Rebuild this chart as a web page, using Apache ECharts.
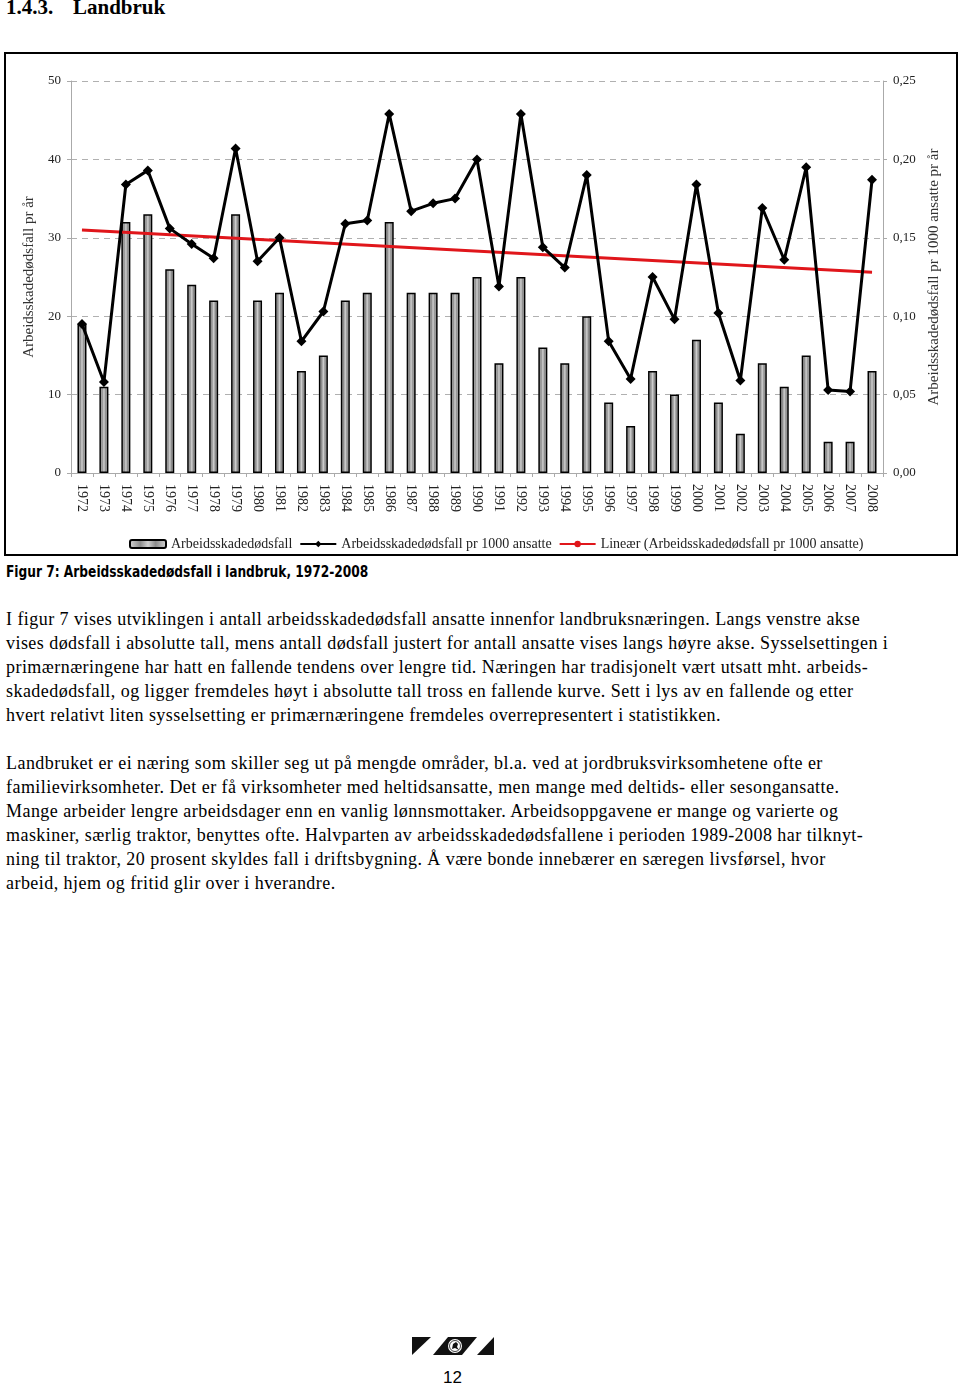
<!DOCTYPE html>
<html>
<head>
<meta charset="utf-8">
<script src="https://cdn.jsdelivr.net/npm/echarts@6.0.0/dist/echarts.min.js"></script>
<style>
body{margin:0;background:#fff;width:960px;height:1388px;position:relative;overflow:hidden;}
.ttl{position:absolute;top:-5px;font:bold 21px "Liberation Serif",serif;color:#000;white-space:pre;}
#chart{position:absolute;left:0;top:0;width:960px;height:560px;}
#caption{position:absolute;left:6px;top:563px;font:bold 15px "Liberation Sans Narrow","DejaVu Sans Condensed","Liberation Sans",sans-serif;color:#000;white-space:nowrap;transform:scaleX(0.905);transform-origin:0 0;}
.txt{position:absolute;left:6px;font:18px/24px "Liberation Serif",serif;letter-spacing:0.45px;color:#000;white-space:nowrap;}
#logo{position:absolute;left:410px;top:1335px;}
#pnum{position:absolute;left:443px;top:1368px;font:17px "Liberation Sans",sans-serif;color:#000;}
</style>
</head>
<body>
<div class="ttl" style="left:6px">1.4.3.</div>
<div class="ttl" style="left:73px">Landbruk</div>
<div id="chart"></div>
<div id="caption">Figur 7: Arbeidsskadedødsfall i landbruk, 1972-2008</div>
<div class="txt" style="top:607px">I figur 7 vises utviklingen i antall arbeidsskadedødsfall ansatte innenfor landbruksnæringen. Langs venstre akse<br>vises dødsfall i absolutte tall, mens antall dødsfall justert for antall ansatte vises langs høyre akse. Sysselsettingen i<br>primærnæringene har hatt en fallende tendens over lengre tid. Næringen har tradisjonelt vært utsatt mht. arbeids-<br>skadedødsfall, og ligger fremdeles høyt i absolutte tall tross en fallende kurve. Sett i lys av en fallende og etter<br>hvert relativt liten sysselsetting er primærnæringene fremdeles overrepresentert i statistikken.</div>
<div class="txt" style="top:751px">Landbruket er ei næring som skiller seg ut på mengde områder, bl.a. ved at jordbruksvirksomhetene ofte er<br>familievirksomheter. Det er få virksomheter med heltidsansatte, men mange med deltids- eller sesongansatte.<br>Mange arbeider lengre arbeidsdager enn en vanlig lønnsmottaker. Arbeidsoppgavene er mange og varierte og<br>maskiner, særlig traktor, benyttes ofte. Halvparten av arbeidsskadedødsfallene i perioden 1989-2008 har tilknyt-<br>ning til traktor, 20 prosent skyldes fall i driftsbygning. Å være bonde innebærer en særegen livsførsel, hvor<br>arbeid, hjem og fritid glir over i hverandre.</div>
<svg id="logo" width="90" height="24">
  <polygon points="2,2 21,2 2,20" fill="#111"/>
  <polygon points="38,2 67,2 52,20 23,20" fill="#111"/>
  <polygon points="84,2 84,20 67,20" fill="#111"/>
  <circle cx="45" cy="11" r="7" fill="#fff"/>
  <circle cx="45" cy="11" r="5.5" fill="none" stroke="#111" stroke-width="0.8"/>
  <path d="M42,14 L43,9 L46,7 L48,9 L47,12 L49,15 L45,13 Z" fill="#111"/>
</svg>
<div id="pnum">12</div>
<script>
var years = ['1972','1973','1974','1975','1976','1977','1978','1979','1980','1981','1982','1983','1984','1985','1986','1987','1988','1989','1990','1991','1992','1993','1994','1995','1996','1997','1998','1999','2000','2001','2002','2003','2004','2005','2006','2007','2008'];
var deaths = [19,11,32,33,26,24,22,33,22,23,13,15,22,23,32,23,23,23,25,14,25,16,14,20,9,6,13,10,17,9,5,14,11,15,4,4,13];
var ratePer1000 = [0.095,0.058,0.184,0.193,0.156,0.146,0.137,0.207,0.135,0.150,0.084,0.103,0.159,0.161,0.229,0.167,0.172,0.175,0.200,0.119,0.229,0.144,0.131,0.190,0.084,0.060,0.125,0.098,0.184,0.102,0.059,0.169,0.136,0.195,0.053,0.052,0.187];
// trend line: value at first and last year
var trendEnds = [0.155, 0.128];

var serif = '"Liberation Serif", serif';
var trendData = [[0, trendEnds[0]], [years.length - 1, trendEnds[1]]];

var myChart = echarts.init(document.getElementById('chart'));
var option = {
    animation: false,
    textStyle: {fontFamily: serif},
    grid: {left: 71, right: 77, top: 81, bottom: 87, containLabel: false},
    graphic: [{
        type: 'rect',
        shape: {x: 5, y: 53, width: 952, height: 502},
        style: {fill: 'none', stroke: '#000', lineWidth: 2},
        silent: true
    }],
    legend: {
        left: 124, top: 532,
        itemWidth: 36, itemHeight: 8, itemGap: 7,
        textStyle: {fontFamily: serif, fontSize: 14, color: '#222'},
        data: ['Arbeidsskadedødsfall', 'Arbeidsskadedødsfall pr 1000 ansatte', 'Lineær (Arbeidsskadedødsfall pr 1000 ansatte)']
    },
    xAxis: {
        type: 'category',
        data: years,
        boundaryGap: true,
        axisLine: {lineStyle: {color: '#aaa', width: 1}},
        axisTick: {show: true, length: 4, lineStyle: {color: '#aaa'}},
        axisLabel: {rotate: -90, fontSize: 14, color: '#222', margin: 11, fontFamily: serif, interval: 0}
    },
    yAxis: [{
        type: 'value', min: 0, max: 50, interval: 10,
        name: 'Arbeidsskadedødsfall pr år',
        nameLocation: 'middle', nameRotate: 90, nameGap: 34,
        nameTextStyle: {fontFamily: serif, fontSize: 15, color: '#333'},
        axisLine: {show: true, lineStyle: {color: '#aaa'}},
        axisTick: {show: true, length: 4, lineStyle: {color: '#aaa'}},
        axisLabel: {fontSize: 13, color: '#222', margin: 10, fontFamily: serif},
        splitLine: {show: true, lineStyle: {color: '#b0b0b0', type: [6, 5]}}
    }, {
        type: 'value', min: 0, max: 0.25, interval: 0.05,
        position: 'right',
        name: 'Arbeidsskadedødsfall pr 1000 ansatte pr år',
        nameLocation: 'middle', nameRotate: 90, nameGap: 41,
        nameTextStyle: {fontFamily: serif, fontSize: 15, color: '#333'},
        axisLine: {show: true, lineStyle: {color: '#aaa'}},
        axisTick: {show: true, length: 4, lineStyle: {color: '#aaa'}},
        axisLabel: {fontSize: 13, color: '#222', margin: 10, fontFamily: serif,
            formatter: function (v) { return v.toFixed(2).replace('.', ','); }},
        splitLine: {show: false}
    }],
    series: [{
        name: 'Arbeidsskadedødsfall',
        type: 'bar',
        data: deaths,
        barWidth: 9,
        itemStyle: {
            color: new echarts.graphic.LinearGradient(0, 0, 1, 0, [
                {offset: 0, color: '#d8d8d8'},
                {offset: 0.3, color: '#8a8a8a'},
                {offset: 0.5, color: '#cfcfcf'},
                {offset: 0.7, color: '#8a8a8a'},
                {offset: 1, color: '#d8d8d8'}
            ]),
            borderColor: '#000',
            borderWidth: 1.5
        },
        z: 2
    }, {
        name: 'Lineær (Arbeidsskadedødsfall pr 1000 ansatte)',
        type: 'line',
        yAxisIndex: 1,
        data: trendData,
        showSymbol: false,
        symbol: 'none',
        lineStyle: {color: '#e0161b', width: 3},
        itemStyle: {color: '#e0161b'},
        z: 3
    }, {
        name: 'Arbeidsskadedødsfall pr 1000 ansatte',
        type: 'line',
        yAxisIndex: 1,
        data: ratePer1000,
        symbol: 'diamond',
        symbolSize: 10,
        lineStyle: {color: '#000', width: 3},
        itemStyle: {color: '#000'},
        z: 4
    }]
};
myChart.setOption(option);
</script>
</body>
</html>
